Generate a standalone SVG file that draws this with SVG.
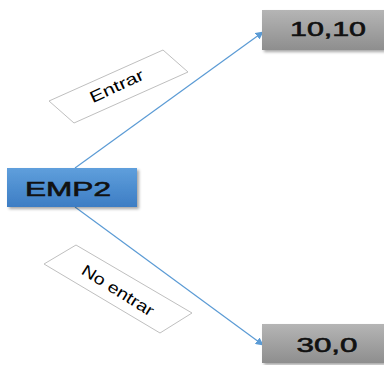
<svg xmlns="http://www.w3.org/2000/svg" width="384" height="365" viewBox="0 0 384 365">
<style>
.lbl{fill:#fff;stroke:#bfbfbf;stroke-width:1}
.lt{font-family:"Liberation Sans",Arial,sans-serif;font-size:16px;fill:#000}
.bt{font-family:"Liberation Sans",Arial,sans-serif;font-size:20px;fill:#111;stroke:#111;stroke-width:0.6;text-anchor:middle}
.conn{stroke:#5b9bd5;stroke-width:1.2;fill:none;marker-end:url(#ah)}
</style>
<defs>
<linearGradient id="gray" x1="0" y1="0" x2="0" y2="1">
<stop offset="0" stop-color="#b5b5b5"/><stop offset="1" stop-color="#8e8e8e"/>
</linearGradient>
<linearGradient id="blue" x1="0" y1="0" x2="0" y2="1">
<stop offset="0" stop-color="#5f9fdc"/><stop offset="1" stop-color="#3d7dc4"/>
</linearGradient>
<filter id="sh" x="-10%" y="-10%" width="130%" height="140%">
<feDropShadow dx="2" dy="2" stdDeviation="1.5" flood-color="#000" flood-opacity="0.35"/>
</filter>
<marker id="ah" viewBox="0 0 10 10" refX="9" refY="5" markerWidth="8" markerHeight="8" markerUnits="userSpaceOnUse" orient="auto">
<path d="M0,0 L10,5 L0,10 Z" fill="#5b9bd5"/>
</marker>
</defs>
<g id="connectors">
<line class="conn" x1="75" y1="168" x2="263" y2="32"/>
<line class="conn" x1="75" y1="207" x2="263" y2="345"/>
</g>
<g id="label-entrar">
<polygon class="lbl" points="49,101 163,50 188,72 74,123"/>
<text class="lt" transform="translate(119,91) rotate(-25)" text-anchor="middle" textLength="58" lengthAdjust="spacingAndGlyphs">Entrar</text>
</g>
<g id="label-noentrar">
<polygon class="lbl" points="44,264 76,245 192,313 160,333"/>
<text class="lt" transform="translate(115,295) rotate(32)" text-anchor="middle" textLength="82" lengthAdjust="spacingAndGlyphs">No entrar</text>
</g>
<g id="emp2">
<rect x="7" y="168" width="130" height="39" fill="url(#blue)" filter="url(#sh)"/>
<text class="bt" x="68" y="196" textLength="86" lengthAdjust="spacingAndGlyphs">EMP2</text>
</g>
<g id="n1010">
<rect x="262" y="10" width="122" height="40" fill="url(#gray)" filter="url(#sh)"/>
<text class="bt" x="328" y="36" textLength="76" lengthAdjust="spacingAndGlyphs">10,10</text>
</g>
<g id="n300">
<rect x="262" y="324" width="122" height="39" fill="url(#gray)" filter="url(#sh)"/>
<text class="bt" x="327" y="352" textLength="61" lengthAdjust="spacingAndGlyphs">30,0</text>
</g>
</svg>
